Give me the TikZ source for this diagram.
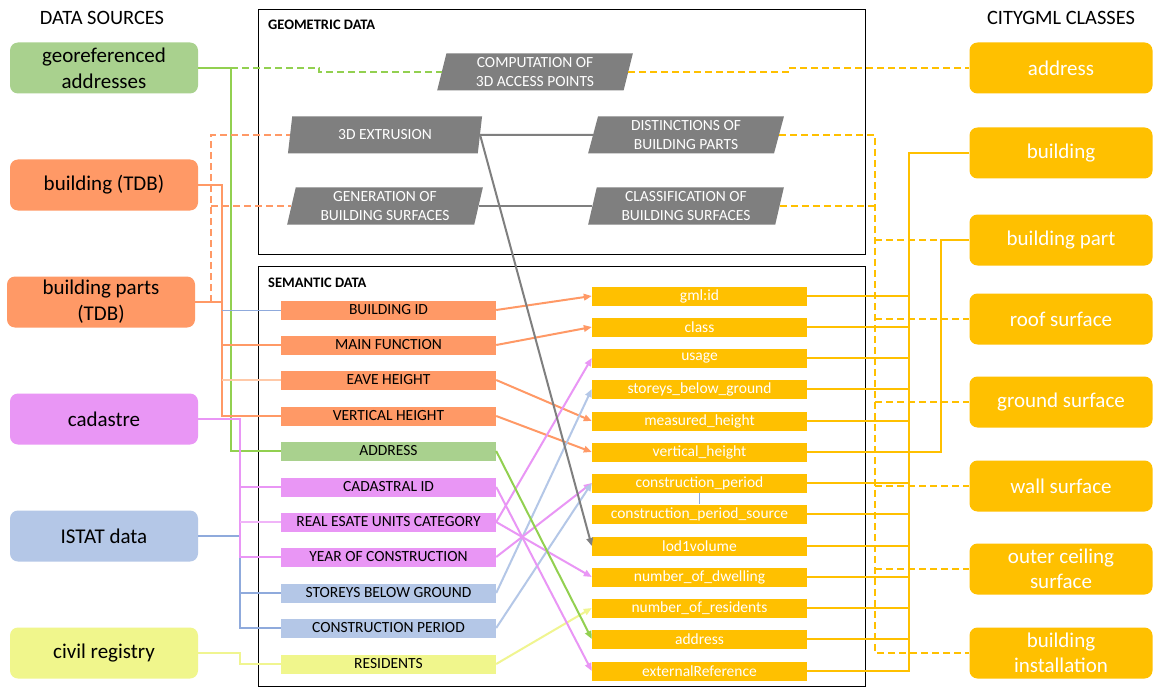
\documentclass[tikz,border=0pt]{standalone}
\usepackage{fontspec}
\setmainfont{Carlito}
\usetikzlibrary{shapes.geometric,arrows.meta}
\definecolor{cgreen}{HTML}{A9D18E}
\definecolor{lgreen}{HTML}{92D050}
\definecolor{corange}{HTML}{FF9966}
\definecolor{lpeach}{HTML}{FFC9A8}
\definecolor{cpink}{HTML}{E996F5}
\definecolor{lpink}{HTML}{F0B4F8}
\definecolor{cblue}{HTML}{B4C7E7}
\definecolor{dblue}{HTML}{8FAADC}
\definecolor{cyel}{HTML}{F0F68C}
\definecolor{lyel}{HTML}{F0F590}
\definecolor{gold}{HTML}{FFC000}
\definecolor{cgray}{HTML}{7F7F7F}
\begin{document}
\begin{tikzpicture}[x=1pt,y=-1pt,
  src/.style={fill=#1, rounded corners=8pt, minimum width=188pt, minimum height=51pt, inner sep=0pt, align=center, font=\fontsize{21}{26}\selectfont},
  cls/.style={fill=gold, rounded corners=8pt, minimum width=183pt, minimum height=51pt, inner sep=0pt, align=center, text=white, font=\fontsize{21}{25}\selectfont},
  sem/.style={fill=#1, minimum width=215pt, minimum height=19pt, inner sep=0pt, font=\fontsize{15.5}{18}\selectfont},
  att/.style={fill=gold, minimum width=215pt, minimum height=19pt, inner sep=0pt, text=white, font=\fontsize{15.5}{18}\selectfont},
  geo/.style={trapezium, trapezium left angle=78, trapezium right angle=102, trapezium stretches=true, fill=cgray, text=white, minimum width=196pt, minimum height=37pt, inner sep=0pt, align=center, font=\fontsize{15.5}{19}\selectfont},
  frame/.style={draw=black, line width=1pt},
  hdr/.style={font=\bfseries\fontsize{14.5}{17}\selectfont, anchor=base west, inner sep=0pt},
  ttl/.style={font=\fontsize{20.4}{24}\selectfont, anchor=base, inner sep=0pt},
  con/.style={line width=2pt, draw=#1},
  thin/.style={line width=1pt, draw=#1},
  arr/.style={line width=2pt, draw=#1, -{Triangle[length=8pt,width=6.5pt]}},
  dsh/.style={line width=2pt, draw=#1, dash pattern=on 7pt off 4pt},
]
\useasboundingbox (0,0) rectangle (1153,687);
\fill[white] (0,0) rectangle (1153,687);

% titles
\node[ttl] (t1) at (102,25) {DATA SOURCES};
\node[ttl] (t2) at (1061,25) {CITYGML CLASSES};

% frames
\draw[frame] (258,10) rectangle (865,254);
\draw[frame] (258,266) rectangle (865,686);
\node[hdr] (h1) at (268,30) {GEOMETRIC DATA};
\node[hdr] (h2) at (268,287) {SEMANTIC DATA};

% sources
\node[src=cgreen] (src1) at (104,68) {georeferenced\\addresses};
\node[src=corange] (src2) at (104,185) {building (TDB)};
\node[src=corange] (src3) at (101,302) {building parts\\(TDB)};
\node[src=cpink] (src4) at (104,419) {cadastre};
\node[src=cblue] (src5) at (104,536) {ISTAT data};
\node[src=cyel] (src6) at (104,653) {civil registry};

% classes
\node[cls] (c1) at (1061,68) {address};
\node[cls] (c2) at (1061,153) {building};
\node[cls] (c3) at (1061,240) {building part};
\node[cls] (c4) at (1061,319) {roof surface};
\node[cls] (c5) at (1061,402) {ground surface};
\node[cls] (c6) at (1061,486) {wall surface};
\node[cls] (c7) at (1061,569) {outer ceiling\\surface};
\node[cls] (c8) at (1061,653) {building\\installation};

% geometric operations
\node[geo] (g1) at (535,72) {COMPUTATION OF\\3D ACCESS POINTS};
\node[geo] (g2) at (385,135) {3D EXTRUSION};
\node[geo] (g3) at (385,206) {GENERATION OF\\BUILDING SURFACES};
\node[geo] (g4) at (686,135) {DISTINCTIONS OF\\BUILDING PARTS};
\node[geo] (g5) at (686,206) {CLASSIFICATION OF\\BUILDING SURFACES};

% semantic data
\node[sem=corange] (s1) at (388.5,310) {BUILDING ID};
\node[sem=corange] (s2) at (388.5,345) {MAIN FUNCTION};
\node[sem=corange] (s3) at (388.5,380) {EAVE HEIGHT};
\node[sem=corange] (s4) at (388.5,416) {VERTICAL HEIGHT};
\node[sem=cgreen] (s5) at (388.5,451) {ADDRESS};
\node[sem=cpink] (s6) at (388.5,487) {CADASTRAL ID};
\node[sem=cpink] (s7) at (388.5,522) {REAL ESATE UNITS CATEGORY};
\node[sem=cpink] (s8) at (388.5,557) {YEAR OF CONSTRUCTION};
\node[sem=cblue] (s9) at (388.5,593) {STOREYS BELOW GROUND};
\node[sem=cblue] (s10) at (388.5,628) {CONSTRUCTION PERIOD};
\node[sem=cyel] (s11) at (388.5,664) {RESIDENTS};

% attributes
\node[att] (a1) at (699.5,296) {gml:id};
\node[att] (a2) at (699.5,327) {class};
\node[att] (a3) at (699.5,358) {usage};
\node[att] (a4) at (699.5,389) {storeys\_below\_ground};
\node[att] (a5) at (699.5,421) {measured\_height};
\node[att] (a6) at (699.5,452) {vertical\_height};
\node[att] (a7) at (699.5,483) {construction\_period};
\node[att] (a8) at (699.5,514) {construction\_period\_source};
\node[att] (a9) at (699.5,546) {lod1volume};
\node[att] (a10) at (699.5,577) {number\_of\_dwelling};
\node[att] (a11) at (699.5,608) {number\_of\_residents};
\node[att] (a12) at (699.5,639) {address};
\node[att] (a13) at (699.5,671) {externalReference};

% bus coordinates
\coordinate (xod) at (211,0);
\coordinate (xo) at (222,0);
\coordinate (xg) at (231,0);
\coordinate (xp) at (240,0);
\coordinate (gstep) at (319,70);
\coordinate (ystep) at (788,70);
\coordinate (xyd) at (875,0);
\coordinate (xys) at (909,0);
\coordinate (xyb) at (941,0);

% left connectors
\draw[dsh=lgreen] (xg |- src1.east) -| (gstep) |- (g1.west);
\draw[con=lgreen] (src1.east) -| (xg |- s5.west) -- (s5.west);
\draw[dsh=corange] (xod |- src3.east) |- (g2.west);
\draw[dsh=corange] (xod |- g3.west) -- (g3.west);
\draw[con=corange] (src2.east) -| (xo |- s4.west) -- (s4.west);
\draw[con=corange] (src3.east) -- (xo |- src3.east);
\draw[con=corange] (xo |- s2.west) -- (s2.west);
\draw[con=lpeach] (xo |- s3.west) -- (s3.west);
\draw[thin=dblue] (xo |- s1.west) -- (s1.west);
\draw[con=dblue] (src5.east) -| (xp |- s10.west) -- (s10.west);
\draw[con=dblue] (xp |- s9.west) -- (s9.west);
\draw[con=cpink] (src4.east) -| (xp |- s8.west) -- (s8.west);
\draw[con=cpink] (xp |- s6.west) -- (s6.west);
\draw[con=lpink] (xp |- s7.west) -- (s7.west);
\draw[con=lyel] (src6.east) -| (xp |- s11.west) -- (s11.west);

% geometric connectors
\draw[con=cgray] (g2.east) -- (g4.west);
\draw[con=cgray] (g3.east) -- (g5.west);
\draw[dsh=gold] (g1.east) -| (ystep) |- (c1.west);
\draw[dsh=gold] (g4.east) -| (xyd |- c8.west) -- (c8.west);
\draw[dsh=gold] (g5.east) -- (xyd |- g5.east);
\foreach \c in {c3,c4,c5,c6,c7} \draw[dsh=gold] (xyd |- \c.west) -- (\c.west);

% right connectors
\foreach \a in {a1,a2,a3,a4,a5,a6,a7,a8,a9,a10,a11,a12} \draw[con=gold] (\a.east) -- (xys |- \a.east);
\draw[con=gold] (c2.west) -| (xys |- a13.east) -- (a13.east);
\draw[con=gold] (a6.east) -| (xyb |- c3.west) -- (c3.west);
\draw[thin=dblue] (a7.south) -- (a8.north);

% middle arrows
\draw[arr=corange] (s1.east) -- (a1.west);
\draw[arr=corange] (s2.east) -- (a2.west);
\draw[arr=corange] (s3.east) -- (a5.west);
\draw[arr=corange] (s4.east) -- (a6.west);
\draw[arr=cpink] (s7.east) -- (a3.west);
\draw[arr=cblue] (s9.east) -- (a4.west);
\draw[arr=cpink] (s8.east) -- (a7.west);
\draw[arr=cblue] (s10.east) -- (a7.west);
\draw[arr=cpink] (s7.east) -- (a10.west);
\draw[arr=lyel] (s11.east) -- (a11.west);
\draw[arr=lgreen] (s5.east) -- (a12.west);
\draw[arr=cpink] (s6.east) -- (a13.west);
\draw[arr=cgray] (g2.east) -- (a9.west);
\end{tikzpicture}
\end{document}
